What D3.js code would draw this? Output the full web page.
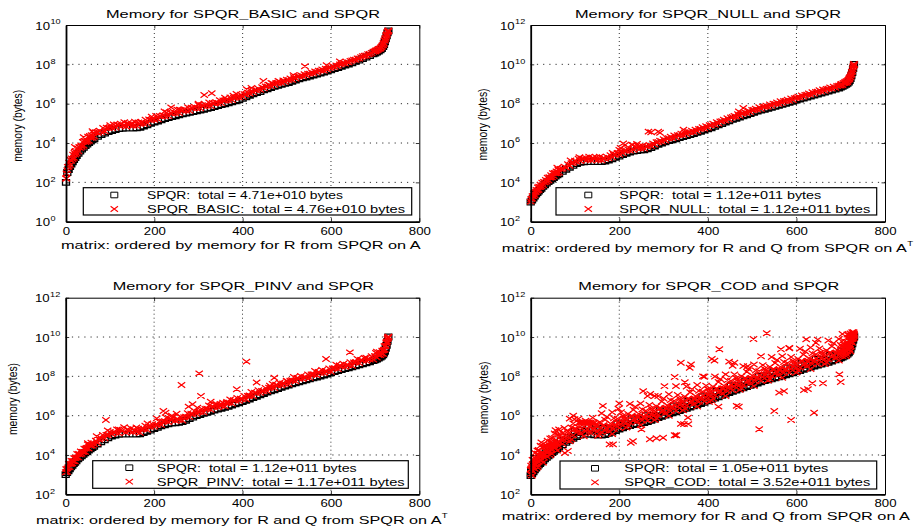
<!DOCTYPE html>
<html><head><meta charset="utf-8">
<script src="https://cdn.jsdelivr.net/npm/d3@7"></script>
<style>
body{margin:0;background:#fff}
svg{display:block}
text{font-family:Arial,"Liberation Sans",Helvetica,sans-serif;fill:#000}
</style></head><body>
<svg id="c" width="919" height="529"></svg>
<script>
// ---------- data (memory values stored as log10(bytes)) ----------
const xTicks=[0,200,400,600,800];
const idx=[0,3,6,9,12,15,18,21,24,28,32,36,40,44,48,52,56,60,64,72,80,88,96,104,112,120,128,136,144,152,160,168,176,184,192,200,208,216,224,232,240,248,256,264,272,280,288,296,304,312,320,328,336,344,352,360,368,376,384,392,400,408,416,424,432,440,448,456,464,472,480,488,496,504,512,520,528,536,544,552,560,568,576,584,592,600,608,616,624,632,640,648,656,664,672,680,688,696,700,704,708,712,715,718,720,722,724,726,728,730];
const idxB=[1,4,7,10,13,16,19,22,26,30,34,38,42,46,50,54,58,62,68,76,84,92,100,108,116,124,132,140,148,156,164,172,180,188,196,204,212,220,228,236,244,252,260,268,276,284,292,300,308,316,324,332,340,348,356,364,372,380,388,396,404,412,420,428,436,444,452,460,468,476,484,492,500,508,516,524,532,540,548,556,564,572,580,588,596,604,612,620,628,636,644,652,660,668,676,684,692,700,702,706,710,713,716,719,721,723,725,727,729,730];

// SPQR on A (R only) - panel 1
const spqrA=[2.00,2.50,2.65,2.80,2.93,3.05,3.16,3.26,3.36,3.48,3.59,3.69,3.78,3.87,3.95,4.03,4.10,4.17,4.23,4.34,4.43,4.51,4.58,4.64,4.69,4.73,4.75,4.76,4.76,4.76,4.77,4.80,4.86,4.93,5.00,5.06,5.12,5.18,5.24,5.29,5.34,5.39,5.44,5.48,5.52,5.56,5.60,5.64,5.68,5.72,5.76,5.80,5.85,5.90,5.95,6.00,6.05,6.10,6.15,6.20,6.27,6.35,6.43,6.50,6.56,6.62,6.70,6.76,6.82,6.88,6.93,6.98,7.03,7.08,7.14,7.20,7.26,7.31,7.36,7.41,7.46,7.51,7.56,7.61,7.66,7.72,7.78,7.84,7.90,7.96,8.02,8.08,8.15,8.22,8.29,8.37,8.45,8.54,8.58,8.63,8.68,8.74,8.80,8.90,9.00,9.15,9.30,9.45,9.60,9.70];
const basicRed1=[2.20,2.62,2.80,2.88,3.10,3.18,3.25,3.42,3.48,3.58,3.76,3.81,3.86,4.05,4.07,4.11,4.26,4.28,4.33,4.52,4.55,4.59,4.76,4.76,4.79,4.89,4.87,4.84,4.92,4.88,4.87,4.96,4.98,5.01,5.16,5.18,5.20,5.34,5.36,5.37,5.50,5.51,5.52,5.64,5.64,5.64,5.76,5.76,5.76,5.88,5.88,5.88,6.01,6.02,6.03,6.16,6.17,6.18,6.31,6.32,6.35,6.47,6.51,6.58,6.68,6.70,6.78,6.88,6.90,6.96,7.05,7.06,7.11,7.20,7.22,7.28,7.38,7.39,7.44,7.53,7.54,7.59,7.68,7.69,7.74,7.84,7.86,7.92,8.02,8.04,8.10,8.20,8.23,8.30,8.41,8.45,8.53,8.64,8.66,8.71,8.78,8.80,8.88,8.98,9.05,9.20,9.36,9.50,9.66,9.70];
const basicRed2=[2.45,2.78,3.00,3.15,3.22,3.40,3.50,3.56,3.72,3.80,3.88,4.05,4.10,4.16,4.32,4.36,4.40,4.52,4.55,4.62,4.76,4.78,4.82,4.95,4.95,4.98,5.06,5.02,5.00,5.08,5.04,5.06,5.18,5.20,5.24,5.38,5.38,5.42,5.55,5.54,5.58,5.70,5.68,5.72,5.82,5.80,5.84,5.94,5.92,5.96,6.06,6.04,6.08,6.18,6.16,6.22,6.32,6.30,6.36,6.46,6.48,6.56,6.66,6.70,6.76,6.84,6.88,6.96,7.03,7.06,7.12,7.18,7.22,7.28,7.34,7.38,7.45,7.50,7.53,7.60,7.64,7.68,7.74,7.78,7.82,7.90,7.94,8.00,8.07,8.12,8.17,8.24,8.30,8.36,8.44,8.51,8.58,8.66,8.70,8.74,8.80,8.86,8.95,9.10,9.22,9.30,9.45,9.55,9.65,9.72];
const basicOut=[[1,2.2],[313,6.44],[330,6.53],[447,7.15],[481,7.15],[409,6.73],[238,5.81],[194,5.34],[379,6.40],[386,6.50],[541,7.90],[300,6.0],[223,5.6],[257,5.7],[100,4.9],[140,4.95],[170,5.05],[60,4.6],[40,4.3],[20,3.8],[465,7.05],[515,7.45],[590,7.95],[620,8.15],[360,6.3],[420,6.8]];

// SPQR on A' (R and Q) - panels 2 and 3
const spqrAT=[3.00,3.10,3.20,3.30,3.40,3.48,3.56,3.63,3.70,3.80,3.88,3.96,4.04,4.11,4.18,4.25,4.32,4.38,4.44,4.56,4.67,4.77,4.87,4.96,5.02,5.05,5.06,5.06,5.06,5.06,5.06,5.08,5.14,5.20,5.27,5.34,5.41,5.48,5.54,5.59,5.62,5.64,5.66,5.70,5.77,5.85,5.93,6.00,6.06,6.12,6.17,6.22,6.28,6.33,6.38,6.43,6.48,6.54,6.60,6.66,6.72,6.78,6.85,6.92,6.99,7.06,7.13,7.20,7.26,7.32,7.38,7.44,7.50,7.56,7.62,7.67,7.72,7.77,7.82,7.87,7.92,7.97,8.02,8.07,8.12,8.18,8.24,8.29,8.34,8.39,8.44,8.49,8.54,8.59,8.64,8.69,8.74,8.80,8.84,8.88,8.93,8.98,9.03,9.10,9.18,9.28,9.42,9.58,9.78,10.00];
const nullRed1=[3.02,3.18,3.30,3.36,3.52,3.58,3.62,3.76,3.80,3.86,4.00,4.04,4.10,4.24,4.26,4.32,4.46,4.46,4.50,4.70,4.75,4.84,5.00,5.04,5.08,5.18,5.14,5.12,5.18,5.14,5.12,5.20,5.22,5.27,5.40,5.42,5.48,5.60,5.62,5.66,5.74,5.72,5.72,5.82,5.85,5.92,6.05,6.08,6.13,6.24,6.25,6.29,6.40,6.41,6.45,6.55,6.56,6.61,6.72,6.74,6.79,6.90,6.93,6.99,7.11,7.14,7.20,7.32,7.34,7.39,7.50,7.52,7.57,7.68,7.70,7.74,7.84,7.85,7.89,7.99,8.00,8.04,8.14,8.15,8.19,8.30,8.32,8.36,8.46,8.47,8.51,8.61,8.62,8.66,8.76,8.77,8.81,8.92,8.92,8.95,9.05,9.06,9.10,9.22,9.26,9.35,9.50,9.64,9.85,9.95];
const nullRed2=[3.15,3.30,3.44,3.50,3.62,3.74,3.78,3.88,3.98,4.02,4.12,4.24,4.26,4.36,4.46,4.48,4.56,4.66,4.68,4.80,4.92,4.98,5.10,5.20,5.22,5.26,5.30,5.24,5.28,5.30,5.24,5.30,5.38,5.40,5.50,5.58,5.60,5.68,5.92,5.80,5.82,5.86,5.84,5.90,5.98,6.04,6.12,6.20,6.24,6.32,6.38,6.40,6.48,6.54,6.56,6.62,6.68,6.72,6.80,6.86,6.90,6.98,7.06,7.10,7.18,7.26,7.30,7.38,7.46,7.50,7.56,7.64,7.68,7.74,7.82,7.86,7.90,7.96,8.00,8.06,8.12,8.14,8.20,8.26,8.28,8.36,8.42,8.45,8.52,8.58,8.60,8.68,8.72,8.75,8.82,8.86,8.90,8.98,9.00,9.04,9.10,9.14,9.18,9.28,9.34,9.44,9.60,9.75,9.92,10.02];
const nullOut=[[266,6.58],[272,6.55],[288,6.58],[292,6.52],[209,5.98],[213,5.9],[203,5.75],[200,5.65],[185,5.5],[140,5.25],[345,6.68],[480,7.78],[470,7.6],[60,4.75],[90,5.12],[110,5.28],[240,5.95],[230,5.9]];
const pinvRed1=[3.12,3.15,3.38,3.38,3.55,3.58,3.68,3.68,3.88,3.88,4.03,4.06,4.16,4.16,4.36,4.33,4.47,4.48,4.56,4.61,4.85,4.85,5.02,5.06,5.14,5.10,5.24,5.14,5.21,5.16,5.18,5.13,5.32,5.28,5.42,5.44,5.53,5.53,5.72,5.67,5.77,5.74,5.78,5.75,5.95,5.93,6.08,6.10,6.18,6.17,6.35,6.30,6.43,6.43,6.50,6.48,6.66,6.62,6.75,6.76,6.84,6.83,7.03,7.00,7.14,7.16,7.25,7.25,7.44,7.40,7.53,7.54,7.62,7.61,7.80,7.75,7.87,7.87,7.94,7.92,8.10,8.05,8.17,8.17,8.24,8.23,8.42,8.37,8.49,8.49,8.56,8.54,8.72,8.67,8.79,8.79,8.86,8.85,9.02,8.96,9.08,9.08,9.15,9.15,9.36,9.36,9.57,9.68,9.90,10.00];
const pinvRed2=[3.28,3.32,3.55,3.55,3.70,3.68,3.84,3.85,4.05,4.05,4.18,4.16,4.32,4.33,4.53,4.50,4.62,4.58,4.72,4.78,5.02,5.02,5.17,5.16,5.30,5.27,5.41,5.31,5.36,5.26,5.34,5.30,5.49,5.45,5.57,5.54,5.69,5.70,5.89,5.84,5.92,5.84,5.94,5.92,6.12,6.10,6.23,6.20,6.34,6.34,6.52,6.47,6.58,6.53,6.66,6.65,6.83,6.79,6.90,6.86,7.00,7.00,7.20,7.17,7.29,7.26,7.41,7.42,7.61,7.57,7.68,7.64,7.78,7.78,7.97,7.92,8.02,7.97,8.10,8.09,8.27,8.22,8.32,8.27,8.40,8.40,8.59,8.54,8.64,8.59,8.72,8.71,8.89,8.84,8.94,8.89,9.02,9.02,9.19,9.13,9.23,9.18,9.31,9.32,9.53,9.53,9.72,9.78,9.95,10.02];
const pinvOut=[[91,5.78],[262,7.56],[302,8.15],[306,7.0],[278,6.46],[287,6.58],[298,6.4],[221,6.24],[226,6.15],[251,6.1],[328,6.71],[342,6.58],[387,7.34],[409,8.75],[432,7.69],[462,7.52],[477,7.56],[472,7.93],[589,8.88],[643,9.22],[704,9.25],[206,5.86],[185,5.6],[160,5.4],[120,5.3],[95,5.25],[70,4.95],[50,4.6],[240,6.0],[350,6.6],[365,6.7],[415,7.0],[500,7.75],[560,8.1],[620,8.55],[680,8.95]];

// SPQR on A (R and Q) - panel 4
const spqrCod=[2.95,3.05,3.15,3.25,3.33,3.42,3.50,3.57,3.64,3.72,3.80,3.88,3.96,4.04,4.12,4.19,4.26,4.33,4.40,4.52,4.64,4.75,4.85,4.94,5.01,5.05,5.06,5.05,5.03,5.02,5.02,5.04,5.10,5.17,5.24,5.32,5.38,5.44,5.50,5.55,5.59,5.62,5.65,5.70,5.76,5.83,5.90,5.97,6.03,6.09,6.15,6.20,6.26,6.32,6.38,6.44,6.50,6.56,6.62,6.68,6.75,6.82,6.89,6.96,7.03,7.10,7.17,7.24,7.30,7.36,7.42,7.48,7.54,7.60,7.66,7.72,7.78,7.83,7.88,7.93,7.98,8.03,8.08,8.13,8.18,8.24,8.30,8.36,8.42,8.47,8.52,8.57,8.62,8.67,8.72,8.78,8.84,8.90,8.94,8.98,9.03,9.08,9.13,9.20,9.28,9.38,9.50,9.65,9.85,10.00];
const spqrCod2=[3.20,3.20,3.50,3.45,3.58,3.57,3.85,3.77,3.89,3.87,4.15,4.08,4.21,4.19,4.47,4.39,4.51,4.48,4.75,4.72,4.89,4.90,5.20,5.14,5.26,5.20,5.41,5.25,5.28,5.17,5.37,5.24,5.35,5.32,5.59,5.52,5.63,5.59,5.85,5.75,5.84,5.77,6.00,5.90,6.01,5.98,6.25,6.17,6.28,6.24,6.50,6.40,6.51,6.47,6.73,6.64,6.75,6.71,6.97,6.88,7.00,6.97,7.24,7.16,7.28,7.25,7.52,7.44,7.55,7.51,7.77,7.68,7.79,7.75,8.01,7.92,8.03,7.98,8.23,8.13,8.23,8.18,8.43,8.33,8.43,8.39,8.65,8.56,8.67,8.62,8.87,8.77,8.87,8.82,9.07,8.98,9.09,9.05,9.29,9.18,9.28,9.23,9.48,9.40,9.53,9.53,9.80,9.85,10.05,10.05];
const codRed1=[3.05,2.95,3.40,3.30,3.63,3.37,3.65,3.77,3.74,3.62,4.05,3.93,4.26,3.99,4.27,4.39,4.36,4.23,4.65,4.57,4.94,4.70,5.00,5.14,5.11,4.95,5.31,5.10,5.33,4.97,5.17,5.24,5.20,5.07,5.49,5.37,5.68,5.39,5.65,5.75,5.69,5.52,5.90,5.75,6.06,5.78,6.05,6.17,6.13,5.99,6.40,6.25,6.56,6.27,6.53,6.64,6.60,6.46,6.87,6.73,7.05,6.77,7.04,7.16,7.13,7.00,7.42,7.29,7.60,7.31,7.57,7.68,7.64,7.50,7.91,7.77,8.08,7.78,8.03,8.13,8.08,7.93,8.33,8.18,8.48,8.19,8.45,8.56,8.52,8.37,8.77,8.62,8.92,8.62,8.87,8.98,8.94,8.80,9.19,9.03,9.33,9.03,9.28,9.40,9.38,9.28,9.75,9.70,10.10,9.95];
const codRed2=[3.45,3.75,3.55,4.10,3.88,4.07,3.95,4.47,4.14,4.42,4.20,4.73,4.51,4.69,4.57,5.09,4.76,5.03,4.80,5.37,5.19,5.40,5.30,5.84,5.51,5.75,5.46,5.90,5.58,5.67,5.47,5.94,5.60,5.87,5.64,6.17,5.93,6.09,5.95,6.45,6.09,6.32,6.05,6.55,6.31,6.48,6.35,6.87,6.53,6.79,6.55,7.05,6.81,6.97,6.83,7.34,7.00,7.26,7.02,7.53,7.30,7.47,7.34,7.86,7.53,7.80,7.57,8.09,7.85,8.01,7.87,8.38,8.04,8.30,8.06,8.57,8.33,8.48,8.33,8.83,8.48,8.73,8.48,8.98,8.73,8.89,8.75,9.26,8.92,9.17,8.92,9.42,9.17,9.32,9.17,9.68,9.34,9.60,9.34,9.83,9.58,9.73,9.58,10.10,9.78,10.08,9.90,10.20,10.25,10.15];
const codRed3=[3.25,3.35,3.75,3.85,3.53,4.22,4.25,3.92,4.64,4.02,4.50,4.48,4.16,4.84,4.87,4.54,5.26,4.63,5.30,5.12,4.84,5.85,5.60,5.29,5.64,5.66,5.64,5.66,5.63,5.22,6.12,5.79,5.45,6.17,5.54,6.62,5.98,5.64,6.60,6.30,5.94,6.62,5.95,7.00,6.36,6.03,7.00,6.72,6.38,7.09,6.45,7.50,6.86,6.52,7.48,7.19,6.85,7.56,6.92,7.98,7.35,7.02,7.99,7.71,7.38,8.10,7.47,8.54,7.90,7.56,8.52,8.23,7.89,8.60,7.96,9.02,8.38,8.03,8.98,8.68,8.33,9.03,8.38,9.43,8.78,8.44,9.40,9.11,8.77,9.47,8.82,9.87,9.22,8.87,9.82,9.53,9.19,9.90,9.24,10.15,9.63,9.28,10.13,9.95,9.63,10.18,9.80,10.25,10.05,10.10];
const codRed4=[3.30,3.20,3.75,3.50,3.78,3.47,4.00,3.87,3.99,3.87,4.40,4.13,4.41,4.09,4.62,4.49,4.61,4.48,5.00,4.77,5.09,4.80,5.35,5.24,5.36,5.20,5.66,5.30,5.48,5.07,5.52,5.34,5.45,5.32,5.84,5.57,5.83,5.49,6.00,5.85,5.94,5.77,6.25,5.95,6.21,5.88,6.40,6.27,6.38,6.24,6.75,6.45,6.71,6.37,6.88,6.74,6.85,6.71,7.22,6.93,7.20,6.87,7.39,7.26,7.38,7.25,7.77,7.49,7.75,7.41,7.92,7.78,7.89,7.75,8.26,7.97,8.23,7.88,8.38,8.23,8.33,8.18,8.68,8.38,8.63,8.29,8.80,8.66,8.77,8.62,9.12,8.82,9.07,8.72,9.22,9.08,9.19,9.05,9.54,9.23,9.48,9.13,9.63,9.50,9.63,9.53,10.10,9.90,10.20,10.05];
const codOut=[[503,9.9],[533,10.19],[426,9.38],[409,8.88],[415,8.8],[448,8.75],[460,8.69],[490,8.52],[565,9.38],[584,9.45],[622,9.88],[644,9.71],[339,8.69],[362,8.6],[359,8.44],[325,7.97],[348,7.7],[302,7.5],[389,8.0],[254,7.25],[270,7.1],[280,7.0],[163,6.5],[198,6.35],[96,6.0],[99,5.82],[550,6.24],[516,5.31],[588,5.78],[640,6.15],[700,7.71],[697,8.1],[617,7.3],[626,7.35],[636,7.65],[660,7.65],[465,6.5],[470,6.45],[561,7.17],[572,7.25],[403,6.7],[424,6.46],[346,5.57],[356,5.57],[178,4.54],[186,4.54],[226,4.62],[231,4.7],[269,4.8],[284,4.85],[299,4.88],[325,5.0],[329,5.0],[250,5.3],[84,4.2],[77,4.1],[339,5.58],[355,5.9],[108,5.64],[114,5.66],[118,5.64],[124,5.66],[130,5.64],[141,5.64]];

const titles=["Memory for SPQR_BASIC and SPQR","Memory for SPQR_NULL and SPQR","Memory for SPQR_PINV and SPQR","Memory for SPQR_COD and SPQR"];
const xLabels=["matrix: ordered by memory for R from SPQR on A","matrix: ordered by memory for R and Q from SPQR on A","matrix: ordered by memory for R and Q from SPQR on A","matrix: ordered by memory for R and Q from SPQR on A"];
const xLabelSup=["","T","T",""];
const yLabel="memory (bytes)";
const legendLabels=[
 ["SPQR:  total = 4.71e+010 bytes","SPQR_BASIC:  total = 4.76e+010 bytes"],
 ["SPQR:  total = 1.12e+011 bytes","SPQR_NULL:  total = 1.12e+011 bytes"],
 ["SPQR:  total = 1.12e+011 bytes","SPQR_PINV:  total = 1.17e+011 bytes"],
 ["SPQR:  total = 1.05e+011 bytes","SPQR_COD:  total = 3.52e+011 bytes"]];
const yDecades=[[0,10],[2,12],[2,12],[2,12]];

// ---------- layout ----------
const layout=[
 {box:[66,419.3,25,221.7], title:[106,274,17.5], xl:[61,359.7,248.5], sup:null, ylab:[21.5,125.8],
  leg:{r:[83.3,187.7,328.4,27.3], mx:114.3, tx:147, rows:[199,213], w:[196,258]}},
 {box:[530.7,885,25,221.7], title:[575,266,17.5], xl:[501.7,405,251.5], sup:[907.3,245.5], ylab:[486.5,124.5],
  leg:{r:[556,187.7,320.7,27.3], mx:588.3, tx:619.3, rows:[199,213], w:[202,251]}},
 {box:[65.7,419.3,297.7,494.3], title:[112.7,261.3,290], xl:[36,405.5,523.5], sup:[441.8,517.5], ylab:[17,399],
  leg:{r:[92.7,460.7,315.6,27.6], mx:129.3, tx:156.7, rows:[471.7,485.7], w:[200,248]}},
 {box:[530.7,885,297.7,494.3], title:[578.3,261,290], xl:[501.7,408.3,519.5], sup:null, ylab:[487.5,397.5],
  leg:{r:[560,461,316.7,28], mx:595, tx:624.3, rows:[472.3,486.3], w:[204,246]}}
];
// each series: [values, index positions]
const series=[
 {black:[[spqrA,idx]], red:[[basicRed1,idx],[basicRed2,idxB]], out:basicOut},
 {black:[[spqrAT,idx]], red:[[nullRed1,idx],[nullRed2,idxB]], out:nullOut},
 {black:[[spqrAT,idx]], red:[[pinvRed1,idx],[pinvRed2,idxB]], out:pinvOut},
 {black:[[spqrCod,idx],[spqrCod2,idxB]], red:[[codRed1,idx],[codRed2,idxB],[codRed3,idx],[codRed4,idxB]], out:codOut}
];

const svg=d3.select('#c');
const SX=1.2;
const f=v=>v.toFixed(2);
function sq(x,y){return `M${f(x-3.5)},${f(y-2.8)}h7v5.6h-7z`;}
function cr(x,y){return `M${f(x-3.7)},${f(y-2.7)}L${f(x+3.7)},${f(y+2.7)}M${f(x-3.7)},${f(y+2.7)}L${f(x+3.7)},${f(y-2.7)}`;}
function fitText(g,str,x,y,w,size){
  return g.append('text').attr('x',x).attr('y',y).attr('font-size',size)
   .attr('textLength',w).attr('lengthAdjust','spacingAndGlyphs')
   .attr('xml:space','preserve').style('white-space','pre').text(str);
}

layout.forEach((L,k)=>{
  const [x0,x1,y0,y1]=L.box;
  const [e0,e1]=yDecades[k];
  const xs=d3.scaleLinear().domain([0,800]).range([x0,x1]);
  const ys=d3.scaleLog().domain([Math.pow(10,e0),Math.pow(10,e1)]).range([y1,y0]);
  const g=svg.append('g');
  const yTickVals=d3.range(e0,e1+1,2).map(e=>Math.pow(10,e));

  // grid
  g.append('g').selectAll('line').data(xTicks.slice(1,-1)).join('line')
   .attr('x1',d=>xs(d)).attr('x2',d=>xs(d)).attr('y1',y0).attr('y2',y1)
   .attr('stroke','#333').attr('stroke-width',1).attr('stroke-dasharray','1,3');
  g.append('g').selectAll('line').data(yTickVals.slice(1,-1)).join('line')
   .attr('x1',x0).attr('x2',x1).attr('y1',d=>ys(d)).attr('y2',d=>ys(d))
   .attr('stroke','#333').attr('stroke-width',1).attr('stroke-dasharray','1.2,5');

  // data
  const S=series[k];
  const pts=(arr,ix)=>ix.map((i,j)=>[xs(i),ys(Math.pow(10,arr[j]))]);
  S.black.forEach(([arr,ix])=>{
    g.append('path').attr('d',pts(arr,ix).map(p=>sq(p[0],p[1])).join(''))
     .attr('fill','none').attr('stroke','#000').attr('stroke-width',1.3);
  });
  S.red.forEach(([arr,ix])=>{
    g.append('path').attr('d',pts(arr,ix).map(p=>cr(p[0],p[1])).join(''))
     .attr('fill','none').attr('stroke','#ff0000').attr('stroke-width',1.25);
  });
  g.append('path').attr('d',S.out.map(o=>cr(xs(o[0]),ys(Math.pow(10,o[1])))).join(''))
   .attr('fill','none').attr('stroke','#ff0000').attr('stroke-width',1.25);

  // axes
  const ax=d3.axisBottom(xs).tickValues(xTicks).tickSizeInner(-3.5).tickSizeOuter(0).tickFormat(d3.format('d'));
  const gx=g.append('g').attr('transform',`translate(0,${y1})`).call(ax);
  gx.select('.domain').attr('stroke-width',1.8);
  gx.selectAll('.tick line').attr('stroke-width',0.8);
  gx.selectAll('.tick text').attr('y',13).attr('dy',null).attr('font-size',11)
    .attr('font-family','Arial, Liberation Sans, sans-serif').attr('fill','#000')
    .attr('transform',`scale(${SX},1)`);
  const axT=d3.axisTop(xs).tickValues(xTicks).tickSizeInner(-3.5).tickSizeOuter(0).tickFormat('');
  g.append('g').attr('transform',`translate(0,${y0})`).call(axT).selectAll('line').attr('stroke-width',0.8);
  const ay=d3.axisLeft(ys).tickValues(yTickVals).tickSizeInner(-3.5).tickSizeOuter(0).tickFormat('');
  const gy=g.append('g').attr('transform',`translate(${x0},0)`).call(ay);
  gy.select('.domain').attr('stroke-width',1.8);
  gy.selectAll('.tick line').attr('stroke-width',0.8);
  gy.selectAll('.tick').each(function(d){
    const t=d3.select(this);
    t.append('text').attr('transform',`translate(-16,4.2) scale(${SX},1)`).attr('text-anchor','end')
      .attr('font-size',11).attr('fill','#000').attr('font-family','Arial, Liberation Sans, sans-serif').text('10');
    t.append('text').attr('transform',`translate(-15.6,-1.2) scale(${SX},1)`).attr('text-anchor','start')
      .attr('font-size',7.6).attr('fill','#000').attr('font-family','Arial, Liberation Sans, sans-serif').text(Math.round(Math.log10(d)));
  });
  const ayR=d3.axisRight(ys).tickValues(yTickVals).tickSizeInner(-3.5).tickSizeOuter(0).tickFormat('');
  g.append('g').attr('transform',`translate(${x1},0)`).call(ayR).selectAll('line').attr('stroke-width',0.8);

  // title & labels
  fitText(g,titles[k],L.title[0],L.title[2],L.title[1],11.5);
  fitText(g,xLabels[k],L.xl[0],L.xl[2],L.xl[1],11.2);
  if(L.sup){ g.append('text').attr('transform',`translate(${L.sup[0]},${L.sup[1]}) scale(${SX},1)`)
     .attr('font-size',8).text(xLabelSup[k]); }
  g.append('text').attr('transform',`translate(${L.ylab[0]},${L.ylab[1]}) scale(${SX},1) rotate(-90)`)
   .attr('text-anchor','middle').attr('font-size',10.4).text(yLabel);

  // legend
  const lg=L.leg;
  g.append('rect').attr('x',lg.r[0]).attr('y',lg.r[1]).attr('width',lg.r[2]).attr('height',lg.r[3])
   .attr('fill','#fff').attr('stroke','#000').attr('stroke-width',1.2);
  g.append('path').attr('d',sq(lg.mx,lg.rows[0]-4)).attr('fill','none').attr('stroke','#000').attr('stroke-width',1);
  g.append('path').attr('d',cr(lg.mx,lg.rows[1]-4)).attr('fill','none').attr('stroke','#ff0000').attr('stroke-width',1.1);
  fitText(g,legendLabels[k][0],lg.tx,lg.rows[0],lg.w[0],10.6);
  fitText(g,legendLabels[k][1],lg.tx,lg.rows[1],lg.w[1],10.6);
});
</script></body></html>
